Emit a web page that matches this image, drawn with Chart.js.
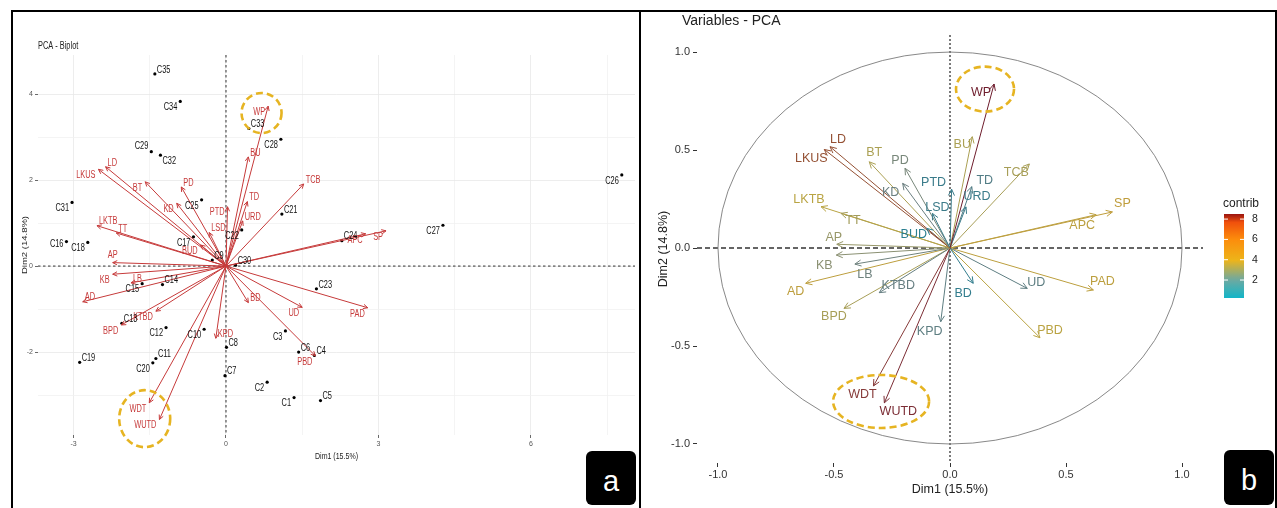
<!DOCTYPE html>
<html>
<head>
<meta charset="utf-8">
<script src="https://cdn.jsdelivr.net/npm/chart.js@4.4.0/dist/chart.umd.min.js"></script>
<style>
  html, body { margin: 0; padding: 0; background: #fff; }
  body { width: 1277px; height: 508px; position: relative; overflow: hidden; }
  canvas { position: absolute; }
  #chartA { left: 13px; top: 12px; }
  #chartB { left: 641px; top: 12px; }
  .frame { position: absolute; background: #000; }
  .tag { position: absolute; background: #000; color: #fff; border-radius: 6px;
         font: 29px "Liberation Sans", Arial, sans-serif; text-align: center; }
</style>
</head>
<body>
<div class="frame" style="left:11px;top:10px;width:1266px;height:2px"></div>
<div class="frame" style="left:11px;top:10px;width:2px;height:498px"></div>
<div class="frame" style="left:639px;top:10px;width:2px;height:498px"></div>
<div class="frame" style="left:1275px;top:10px;width:2px;height:498px"></div>
<canvas id="chartA" width="626" height="496"></canvas>
<canvas id="chartB" width="634" height="496"></canvas>
<div class="tag" style="left:586px;top:451px;width:50px;height:54px;line-height:60px">a</div>
<div class="tag" style="left:1224px;top:450px;width:50px;height:55px;line-height:60px">b</div>

<script>
// individuals (panel a)
const individuals = ["C1","C2","C3","C4","C5","C6","C7","C8","C9","C10","C11","C12","C13","C14","C15","C16","C17","C18",
  "C19","C20","C21","C22","C23","C24","C25","C26","C27","C28","C29","C30","C31","C32","C33","C34","C35"];
const indDim1 = [1.34,0.81,1.17,1.74,1.86,1.43,-0.02,0.01,-0.27,-0.43,-1.38,-1.18,-2.05,-1.25,-1.65,-3.14,-0.64,-2.72,
  -2.88,-1.44,1.10,0.31,1.78,2.28,-0.48,7.79,4.27,1.08,-1.47,0.19,-3.03,-1.29,0.45,-0.90,-1.40];
const indDim2 = [-3.06,-2.70,-1.51,-2.08,-3.13,-2.00,-2.55,-1.89,0.14,-1.47,-2.15,-1.43,-1.33,-0.43,-0.41,0.57,0.68,0.55,
  -2.24,-2.25,1.21,0.84,-0.53,0.59,1.54,2.12,0.95,2.95,2.66,0.02,1.48,2.58,3.20,3.83,4.47];

// variables
const variables = ["WP","BU","TCB","TD","URD","PTD","LSD","PD","KD","BT","LD","LKUS","LKTB","TT","BUD",
  "AP","KB","LB","AD","KTBD","BPD","WDT","WUTD","KPD","BD","UD","PBD","PAD","APC","SP"];
// arrows in the biplot (panel a)
const bipDim1 = [0.83,0.44,1.53,0.42,0.33,0.03,-0.33,-0.88,-0.97,-1.59,-2.37,-2.51,-2.54,-2.16,-0.50,
  -2.23,-2.23,-1.87,-2.82,-1.38,-2.06,-1.51,-1.31,-0.20,0.44,1.50,1.76,2.79,2.75,3.15];
const bipDim2 = [3.72,2.54,1.91,1.50,1.05,1.38,0.78,1.84,1.46,1.96,2.31,2.25,0.94,0.77,0.49,
  0.08,-0.19,-0.39,-0.83,-1.05,-1.37,-3.18,-3.57,-1.68,-0.85,-0.96,-2.09,-0.97,0.75,0.82];
// coordinates on the correlation circle (panel b)
const varDim1 = [0.190,0.096,0.342,0.094,0.069,0.007,-0.076,-0.194,-0.204,-0.348,-0.517,-0.542,-0.556,-0.470,-0.100,
  -0.488,-0.490,-0.410,-0.622,-0.305,-0.457,-0.330,-0.283,-0.040,0.100,0.333,0.388,0.618,0.630,0.700];
const varDim2 = [0.837,0.568,0.429,0.313,0.210,0.300,0.177,0.407,0.330,0.440,0.517,0.503,0.211,0.177,0.100,
  0.019,-0.036,-0.082,-0.180,-0.228,-0.308,-0.704,-0.790,-0.376,-0.180,-0.206,-0.458,-0.214,0.170,0.184];
const contrib = [8.5,3.4,3.3,1.5,1.0,1.0,1.1,2.2,1.9,3.4,6.3,6.3,3.9,3.2,0.23,
  2.9,2.6,2.0,4.4,1.8,3.3,6.9,7.6,1.7,0.6,1.7,4.0,4.3,4.2,4.6];

const xTicksA = [-3, 0, 3, 6];
const yTicksA = [-2, 0, 2, 4];
const legendTicks = [2, 4, 6, 8];

// label placement
const indPlace = {C34:'ld',C28:'ld',C29:'lu',C32:'rd',C31:'ld',C25:'ld',C22:'ld',C17:'ld',C16:'l',C18:'ld',
  C27:'ld',C26:'ld',C15:'ld',C12:'ld',C10:'ld',C3:'ld',C20:'ld',C2:'ld',C1:'ld'};
const varPlaceA = {WP:'ld',PTD:'ld',KD:'ld',BT:'ld',LKUS:'ld',BUD:'ld',KB:'ld',KTBD:'ld',BPD:'ld',WDT:'ld',
  WUTD:'ld',UD:'ld',PBD:'ld',PAD:'ld',APC:'ld',SP:'ld',AP:'u'};
const nudgeB = {LD:[8,-7],LKUS:[-13,9],BT:[5,-9],PD:[-5,-8],KD:[-12,9],PTD:[-18,-7],LSD:[5,-6],LKTB:[-12,-7],
  TT:[12,7],BUD:[-13,6],AP:[-3,-7],KB:[-12,10],LB:[10,10],AD:[-10,8],KTBD:[19,-7],BPD:[-10,8],KPD:[-11,10],
  WDT:[-11,9],WUTD:[14,9],WP:[-13,9],BU:[-10,8],TD:[13,-6],URD:[11,-10],TCB:[-13,9],SP:[10,-8],APC:[-14,11],
  BD:[-10,10],UD:[9,-6],PAD:[9,-8],PBD:[10,-7]};
const place = {ru:['left',2,-4], rd:['left',2,6], ld:['right',-3,6], lu:['right',-3,-5], l:['right',-3,3], u:['center',0,-7]};

// dashed highlight rings
const ringsA = [{x:0.70,y:3.56,rx:20,ry:20},{x:-1.60,y:-3.55,rx:25.5,ry:28.5}];
const ringsB = [{x:0.151,y:0.811,rx:29,ry:22.5},{x:-0.297,y:-0.783,rx:48,ry:26.5}];

const RED = "#C63A3A";
const SANS = '"Liberation Sans", Arial, sans-serif';
const markStops = [[0,"#2A7F90"],[0.12,"#3F7A88"],[0.2,"#6A7F80"],[0.3,"#8F9370"],[0.42,"#B8A646"],
  [0.55,"#C09A38"],[0.7,"#9A5A30"],[0.82,"#84363A"],[1,"#6E1C2C"]];
const barStops = [[0,"#12B5C8"],[0.22,"#6FA9A0"],[0.45,"#EDB41A"],[0.7,"#FC8C0C"],[0.9,"#F0500C"],[1,"#9A1410"]];

const cMin = Math.min(...contrib), cMax = Math.max(...contrib);

function hexToRgb(h) { return [1, 3, 5].map(i => parseInt(h.slice(i, i + 2), 16)); }
function ramp(stops, t) {
  t = Math.max(0, Math.min(1, t));
  for (let i = 1; i < stops.length; i++) {
    if (t <= stops[i][0]) {
      const f = (t - stops[i-1][0]) / (stops[i][0] - stops[i-1][0]);
      const a = hexToRgb(stops[i-1][1]), b = hexToRgb(stops[i][1]);
      return "rgb(" + a.map((v, k) => Math.round(v + (b[k] - v) * f)).join(",") + ")";
    }
  }
  return stops[stops.length - 1][1];
}
const contribColor = c => ramp(markStops, (c - cMin) / (cMax - cMin));

// the left panel is squeezed sideways, so its text is drawn narrow
function narrowText(ctx, txt, x, y, align, rot) {
  ctx.save();
  ctx.translate(x, y);
  if (rot) ctx.rotate(rot);
  ctx.scale(rot ? 1 : 0.74, rot ? 0.74 : 1);
  ctx.textAlign = align;
  ctx.fillText(txt, 0, 0);
  ctx.restore();
}

function arrowHead(ctx, p0, p1, len, color) {
  const a = Math.atan2(p1.y - p0.y, p1.x - p0.x);
  ctx.strokeStyle = color;
  ctx.beginPath();
  ctx.moveTo(p1.x - len * Math.cos(a - 0.45), p1.y - len * Math.sin(a - 0.45));
  ctx.lineTo(p1.x, p1.y);
  ctx.lineTo(p1.x - len * Math.cos(a + 0.45), p1.y - len * Math.sin(a + 0.45));
  ctx.stroke();
}

const zeroLines = (hDash, vDash, width) => ({
  id: "zeroLines",
  beforeDatasetsDraw(chart) {
    const {ctx, chartArea: a, scales: {x, y}} = chart;
    ctx.save();
    ctx.strokeStyle = "#333"; ctx.lineWidth = width;
    const py = y.getPixelForValue(0), px = x.getPixelForValue(0);
    ctx.setLineDash(hDash); ctx.beginPath(); ctx.moveTo(a.left, py); ctx.lineTo(a.right, py); ctx.stroke();
    ctx.setLineDash(vDash); ctx.beginPath(); ctx.moveTo(px, a.top); ctx.lineTo(px, a.bottom); ctx.stroke();
    ctx.restore();
  }
});

const rings = list => ({
  id: "rings",
  afterDatasetsDraw(chart) {
    const {ctx, scales: {x, y}} = chart;
    ctx.save();
    ctx.strokeStyle = "#E6B422"; ctx.lineWidth = 2.6; ctx.setLineDash([7, 4]);
    list.forEach(r => {
      ctx.beginPath();
      ctx.ellipse(x.getPixelForValue(r.x), y.getPixelForValue(r.y), r.rx, r.ry, 0, 0, Math.PI * 2);
      ctx.stroke();
    });
    ctx.restore();
  }
});

// ---------- panel a : biplot ----------
const arrowSetsA = variables.map((v, i) => ({
  label: v,
  data: [{x: 0, y: 0}, {x: bipDim1[i], y: bipDim2[i]}],
  showLine: true, borderColor: RED, borderWidth: 1, pointRadius: 0
}));
const pointsA = {
  label: "individuals",
  data: individuals.map((n, i) => ({x: indDim1[i], y: indDim2[i]})),
  pointRadius: 1.6, backgroundColor: "#000", borderWidth: 0
};

const biplotText = {
  id: "biplotText",
  afterDatasetsDraw(chart) {
    const {ctx, chartArea: a} = chart;
    ctx.save();
    ctx.textBaseline = "middle";
    ctx.lineWidth = 1;
    ctx.font = "10px " + SANS;
    variables.forEach((v, i) => {
      const pts = chart.getDatasetMeta(i).data;
      arrowHead(ctx, pts[0], pts[1], 5, RED);
      const [al, dx, dy] = place[varPlaceA[v] || "ru"];
      ctx.fillStyle = RED;
      narrowText(ctx, v, pts[1].x + dx, pts[1].y + dy, al);
    });
    const pm = chart.getDatasetMeta(variables.length).data;
    ctx.fillStyle = "#111";
    individuals.forEach((n, i) => {
      const [al, dx, dy] = place[indPlace[n] || "ru"];
      narrowText(ctx, n, pm[i].x + dx, pm[i].y + dy, al);
    });
    ctx.fillStyle = "#222";
    ctx.font = "10px " + SANS;
    narrowText(ctx, "PCA - Biplot", 25, 34, "left");
    ctx.font = "9.5px " + SANS;
    narrowText(ctx, "Dim1 (15.5%)", (a.left + a.right) / 2, a.bottom + 21, "center");
    narrowText(ctx, "Dim2 (14.8%)", 12, (a.top + a.bottom) / 2, "center", -Math.PI / 2);
    ctx.restore();
  }
};

const isIn = (list, v) => list.some(t => Math.abs(t - v) < 1e-6);

new Chart(document.getElementById("chartA"), {
  type: "scatter",
  data: {datasets: [...arrowSetsA, pointsA]},
  options: {
    responsive: false, animation: false, events: [],
    layout: {padding: {left: 0, top: 43, right: 2, bottom: 41}},
    plugins: {legend: {display: false}, tooltip: {enabled: false}},
    scales: {
      x: {
        type: "linear", min: -3.7, max: 8.05,
        afterFit: s => { s.height = 32; },
        border: {display: false},
        grid: {
          color: c => isIn(xTicksA, c.tick.value) ? "#E9E9E9" : "#F1F1F1",
          lineWidth: 0.8, tickLength: 3,
          tickColor: c => isIn(xTicksA, c.tick.value) ? "#444" : "rgba(0,0,0,0)"
        },
        ticks: {stepSize: 1.5, includeBounds: false, autoSkip: false, maxRotation: 0, padding: 2,
          color: "#555", font: {size: 7, family: SANS},
          callback: v => isIn(xTicksA, v) ? String(v) : ""}
      },
      y: {
        type: "linear", min: -3.93, max: 4.91,
        afterFit: s => { s.width = 25; },
        border: {display: false},
        grid: {
          color: c => isIn(yTicksA, c.tick.value) ? "#E9E9E9" : "#F1F1F1",
          lineWidth: 0.8, tickLength: 3,
          tickColor: c => isIn(yTicksA, c.tick.value) ? "#444" : "rgba(0,0,0,0)"
        },
        ticks: {stepSize: 1, includeBounds: false, autoSkip: false, padding: 2,
          color: "#555", font: {size: 7, family: SANS},
          callback: v => isIn(yTicksA, v) ? String(v) : ""}
      }
    }
  },
  plugins: [zeroLines([2.5, 2.5], [2.5, 2.5], 1), biplotText, rings(ringsA)]
});

// ---------- panel b : variables ----------
const arrowSetsB = variables.map((v, i) => ({
  label: v,
  data: [{x: 0, y: 0}, {x: varDim1[i], y: varDim2[i]}],
  showLine: true, borderColor: contribColor(contrib[i]), borderWidth: 1, pointRadius: 0
}));

const unitCircle = {
  id: "unitCircle",
  beforeDatasetsDraw(chart) {
    const {ctx, scales: {x, y}} = chart;
    const cx = x.getPixelForValue(0), cy = y.getPixelForValue(0);
    ctx.save();
    ctx.strokeStyle = "#7A7A7A"; ctx.lineWidth = 0.9;
    ctx.beginPath();
    ctx.ellipse(cx, cy, x.getPixelForValue(1) - cx, cy - y.getPixelForValue(1), 0, 0, Math.PI * 2);
    ctx.stroke();
    ctx.restore();
  }
};

const varText = {
  id: "varText",
  afterDatasetsDraw(chart) {
    const {ctx} = chart;
    ctx.save();
    ctx.lineWidth = 1;
    ctx.textBaseline = "middle"; ctx.textAlign = "center";
    ctx.font = "12.5px " + SANS;
    variables.forEach((v, i) => {
      const pts = chart.getDatasetMeta(i).data;
      const col = contribColor(contrib[i]);
      arrowHead(ctx, pts[0], pts[1], 7, col);
      const [dx, dy] = nudgeB[v] || [0, -8];
      ctx.fillStyle = col;
      ctx.fillText(v, pts[1].x + dx, pts[1].y + dy);
    });
    // title
    ctx.textAlign = "left"; ctx.fillStyle = "#222";
    ctx.font = "14px " + SANS;
    ctx.fillText("Variables - PCA", 41, 9);
    // colour legend
    const bx = 583, bw = 20, top = 202, bottom = 286;
    ctx.font = "12px " + SANS;
    ctx.fillText("contrib", 582, 192);
    const g = ctx.createLinearGradient(0, bottom, 0, top);
    for (let k = 0; k <= 20; k++) g.addColorStop(k / 20, ramp(barStops, k / 20));
    ctx.fillStyle = g;
    ctx.fillRect(bx, top, bw, bottom - top);
    ctx.font = "10.5px " + SANS; ctx.fillStyle = "#222";
    ctx.strokeStyle = "#fff";
    legendTicks.forEach(t => {
      const py = bottom - (t - cMin) / (cMax - cMin) * (bottom - top);
      ctx.beginPath();
      ctx.moveTo(bx, py); ctx.lineTo(bx + 4, py);
      ctx.moveTo(bx + bw - 4, py); ctx.lineTo(bx + bw, py);
      ctx.stroke();
      ctx.fillText(String(t), bx + bw + 8, py);
    });
    ctx.restore();
  }
};

new Chart(document.getElementById("chartB"), {
  type: "scatter",
  data: {datasets: arrowSetsB},
  options: {
    responsive: false, animation: false, events: [],
    layout: {padding: {left: 0, top: 23, right: 72, bottom: 9}},
    plugins: {legend: {display: false}, tooltip: {enabled: false}},
    scales: {
      x: {
        type: "linear", min: -1.0905, max: 1.0905,
        afterFit: s => { s.height = 36; },
        border: {display: false},
        grid: {drawOnChartArea: false, tickLength: 4, tickColor: "#333"},
        ticks: {stepSize: 0.5, includeBounds: false, maxRotation: 0, padding: 1,
          color: "#333", font: {size: 11, family: SANS}, callback: v => v.toFixed(1)},
        title: {display: true, text: "Dim1 (15.5%)", color: "#222", font: {size: 12.5, family: SANS},
          padding: {top: 0, bottom: 2}}
      },
      y: {
        type: "linear", min: -1.097, max: 1.087,
        afterFit: s => { s.width = 56; },
        border: {display: false},
        grid: {drawOnChartArea: false, tickLength: 4, tickColor: "#333"},
        ticks: {stepSize: 0.5, includeBounds: false, padding: 3,
          color: "#333", font: {size: 11, family: SANS}, callback: v => v.toFixed(1)},
        title: {display: true, text: "Dim2 (14.8%)", color: "#222", font: {size: 12.5, family: SANS},
          padding: {top: 15, bottom: 0}}
      }
    }
  },
  plugins: [zeroLines([5, 3], [2, 2], 1.3), unitCircle, varText, rings(ringsB)]
});
</script>
</body>
</html>
